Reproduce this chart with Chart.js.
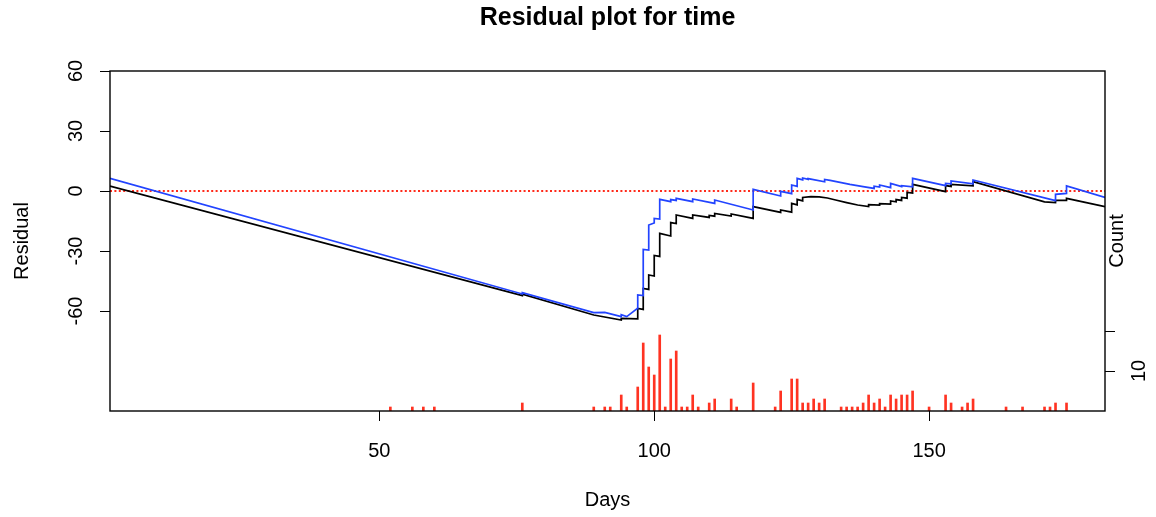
<!DOCTYPE html>
<html>
<head>
<meta charset="utf-8">
<script src="https://cdn.jsdelivr.net/npm/chart.js@4/dist/chart.umd.min.js"></script>
<style>
html,body{margin:0;padding:0;background:#ffffff;}
#wrap{width:1156px;height:517px;}
</style>
</head>
<body>
<div id="wrap"><canvas id="c" width="1156" height="517"></canvas></div>
<script>
// ---- text ----
const titleText = 'Residual plot for time';
const xAxisTitle = 'Days';
const yAxisTitle = 'Residual';
const countAxisTitle = 'Count';

// ---- tick values ----
const xTicks = [50, 100, 150];
const yTicks = [-60, -30, 0, 30, 60];
const countTicks = [10, 20];
const countTickLabels = ['10', ''];

// ---- black residual line ----
const blackDays = [1, 76, 76, 89, 94, 94, 97, 97, 98, 98, 99, 99, 100, 100, 101, 101, 103, 103, 104, 104,
  107, 107, 110, 110, 111, 111, 114, 114, 118, 118, 123, 123, 125, 125, 126, 126, 127, 127,
  128.5, 130, 131.5, 133, 135, 137, 139, 139, 141, 141, 143, 143, 144, 144, 145, 145, 146, 146, 147, 147,
  153, 153, 154, 154, 158, 158, 171, 173, 173, 175, 175, 182];
const blackResid = [2.5, -52.3, -51.6, -62.0, -64.5, -63.7, -63.9, -58.7, -59.2, -48.7, -49.2, -42.0, -42.5, -32.2, -32.7, -21.2, -22.5, -15.8, -16.3, -12.0,
  -13.7, -12.0, -13.2, -12.2, -12.6, -11.2, -12.5, -11.5, -13.7, -7.8, -10.7, -9.5, -10.6, -6.2, -6.9, -4.2, -4.9, -3.2,
  -2.8, -2.9, -3.5, -4.5, -5.8, -7.0, -7.8, -6.8, -7.0, -6.3, -6.6, -5.0, -5.4, -4.3, -4.7, -3.2, -3.6, -0.7, -1.0, 3.3,
  -0.3, 2.7, 2.3, 3.3, 2.6, 4.7, -5.4, -5.8, -4.7, -4.7, -3.7, -7.8];

// ---- blue residual line ----
const blueDays = [1, 76, 76, 89, 91, 94, 94, 95, 96.9, 97, 97, 98, 98, 99, 99, 100, 100, 101, 101, 103, 103, 104, 104,
  107, 107, 111, 111, 118, 118, 123, 123, 125, 125, 126, 126, 127, 127, 128, 128, 131, 131, 132, 135.6, 138,
  140, 140, 141, 141, 143, 143, 145, 145, 147, 147, 153, 153, 154, 154, 158, 158, 173, 173, 175, 175, 182];
const blueResid = [6.3, -51.5, -50.8, -60.8, -60.7, -62.8, -61.8, -62.8, -58.8, -58.8, -52.0, -52.3, -29.2, -29.5, -17.0, -16.0, -13.7, -14.0, -4.2, -5.3, -4.3, -4.7, -3.7,
  -5.3, -4.0, -6.2, -4.5, -9.5, 0.8, -2.5, -0.2, -1.3, 3.0, 2.3, 6.3, 5.6, 6.5, 5.8, 6.2, 4.6, 5.8, 5.3, 3.3, 2.2,
  1.3, 2.4, 2.0, 3.0, 1.7, 3.8, 2.2, 2.7, 2.1, 6.3, 2.7, 3.8, 3.6, 5.0, 3.6, 5.5, -4.8, -1.7, -1.2, 2.5, -3.2];

// ---- zero reference line ----
const zeroDays = [1, 182];
const zeroResid = [0, 0];

// ---- event counts per day ----
const countDays = [52, 56, 58, 60, 76, 89, 91, 92, 94, 95, 97, 98, 99, 100, 101, 102, 103, 104, 105, 106, 107, 108,
  110, 111, 114, 115, 118, 122, 123, 125, 126, 127, 128, 129, 130, 131, 134, 135, 136, 137, 138, 139, 140, 141,
  142, 143, 144, 145, 146, 147, 150, 153, 154, 156, 157, 158, 164, 167, 171, 172, 173, 175];
const countValues = [1, 1, 1, 1, 2, 1, 1, 1, 4, 1, 6, 17, 11, 9, 19, 1, 13, 15, 1, 1, 4, 1,
  2, 3, 3, 1, 7, 1, 5, 8, 8, 2, 2, 3, 2, 3, 1, 1, 1, 1, 2, 4, 2, 3,
  1, 4, 3, 4, 4, 5, 1, 4, 2, 1, 2, 3, 1, 1, 1, 1, 2, 2];

const FONT = "'Liberation Sans', Arial, Helvetica, sans-serif";
const pts = (xs, ys) => xs.map((x, i) => ({x: x, y: ys[i]}));

const framePlugin = {
  id: 'frame',
  afterDraw(chart) {
    const {ctx, chartArea: a} = chart;
    ctx.save();
    ctx.strokeStyle = '#000';
    ctx.lineWidth = 1.4;
    ctx.strokeRect(a.left, a.top, a.right - a.left, a.bottom - a.top);
    ctx.translate(a.right + 12, (a.top + a.bottom) / 2);
    ctx.rotate(-Math.PI / 2);
    ctx.fillStyle = '#000';
    ctx.font = '20px ' + FONT;
    ctx.textAlign = 'center';
    ctx.textBaseline = 'middle';
    ctx.fillText(countAxisTitle, 0, 0);
    ctx.restore();
  }
};

const tickGrid = {drawOnChartArea: false, drawTicks: true, tickLength: 10, color: '#000', lineWidth: 1, offset: false};

new Chart(document.getElementById('c').getContext('2d'), {
  type: 'line',
  data: {
    datasets: [
      {type: 'line', label: 'blue', data: pts(blueDays, blueResid), borderColor: '#2244ff', borderWidth: 1.7,
        pointRadius: 0, tension: 0, fill: false, yAxisID: 'y', order: 0},
      {type: 'line', label: 'black', data: pts(blackDays, blackResid), borderColor: '#000000', borderWidth: 1.7,
        pointRadius: 0, tension: 0, fill: false, yAxisID: 'y', order: 1},
      {type: 'line', label: 'zero', data: pts(zeroDays, zeroResid), borderColor: '#ff2a1a', borderWidth: 1.8,
        borderDash: [2, 2.4], pointRadius: 0, tension: 0, fill: false, yAxisID: 'y', order: 2},
      {type: 'bar', label: 'count', data: pts(countDays, countValues), backgroundColor: '#ff3322',
        barThickness: 2, grouped: false, yAxisID: 'y2', order: 3}
    ]
  },
  options: {
    responsive: false,
    animation: false,
    layout: {padding: 0},
    plugins: {
      legend: {display: false},
      tooltip: {enabled: false},
      title: {display: true, text: titleText, fullSize: false, color: '#000',
        font: {family: FONT, size: 25, weight: 'bold'}, padding: {top: 3, bottom: 38}}
    },
    scales: {
      x: {
        type: 'linear', position: 'bottom', min: 1, max: 182, offset: false,
        afterBuildTicks: s => { s.ticks = xTicks.map(v => ({value: v})); },
        afterFit: s => { s.height = 106; },
        grid: tickGrid, border: {display: false},
        ticks: {font: {family: FONT, size: 20}, color: '#000', padding: 18, maxRotation: 0, autoSkip: false},
        title: {display: true, text: xAxisTitle, color: '#000', font: {family: FONT, size: 20}, padding: {top: 0, bottom: 5}}
      },
      y: {
        type: 'linear', position: 'left', min: -110, max: 60,
        afterBuildTicks: s => { s.ticks = yTicks.map(v => ({value: v})); },
        afterFit: s => { s.width = 110; },
        grid: tickGrid, border: {display: false},
        ticks: {font: {family: FONT, size: 20}, color: '#000', padding: 9.5, minRotation: 90, maxRotation: 90,
          crossAlign: 'center', autoSkip: false},
        title: {display: true, text: yAxisTitle, color: '#000', font: {family: FONT, size: 20}, padding: {top: 10, bottom: 0}}
      },
      y2: {
        type: 'linear', position: 'right', min: 0, max: 85,
        afterBuildTicks: s => { s.ticks = countTicks.map(v => ({value: v})); },
        afterFit: s => { s.width = 51; },
        grid: tickGrid, border: {display: false},
        ticks: {font: {family: FONT, size: 20}, color: '#000', padding: 13, minRotation: 90, maxRotation: 90,
          crossAlign: 'center', autoSkip: false, callback: (v, i) => countTickLabels[i]}
      }
    }
  },
  plugins: [framePlugin]
});
</script>
</body>
</html>
